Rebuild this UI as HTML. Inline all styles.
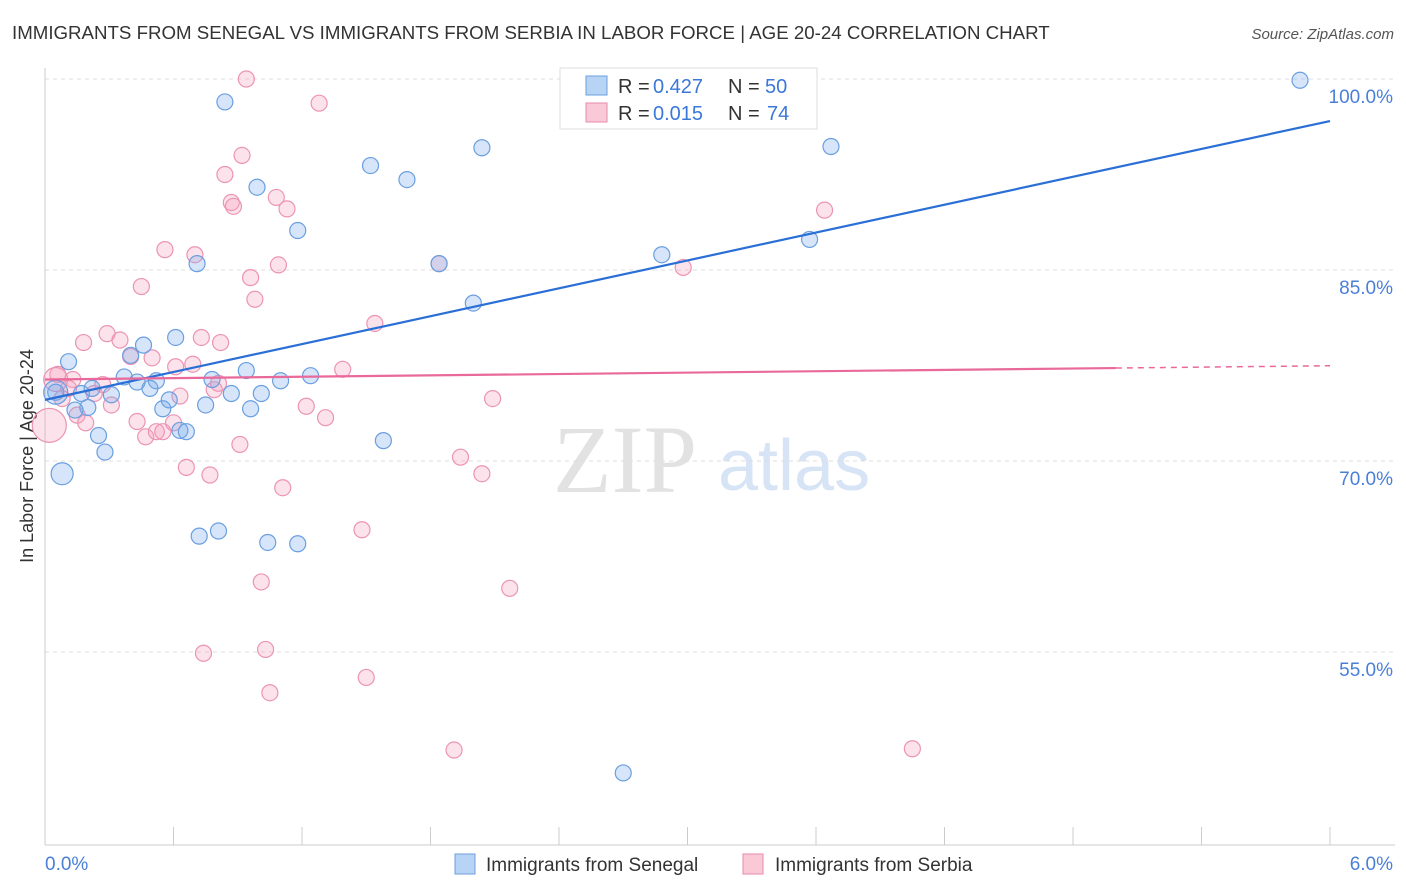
<!DOCTYPE html>
<html><head><meta charset="utf-8"><style>
body{margin:0;background:#fff;font-family:"Liberation Sans",sans-serif;}
#wrap{position:relative;width:1406px;height:892px;overflow:hidden}
</style></head><body>
<div id="wrap">
<svg id="svg" width="1406" height="892" xmlns="http://www.w3.org/2000/svg">
<text x="12" y="39" font-size="18.7" fill="#333">IMMIGRANTS FROM SENEGAL VS IMMIGRANTS FROM SERBIA IN LABOR FORCE | AGE 20-24 CORRELATION CHART</text>
<text x="1394" y="39" font-size="15" fill="#555" font-style="italic" text-anchor="end">Source: ZipAtlas.com</text>
<text x="33" y="456" font-size="18" fill="#333" text-anchor="middle" transform="rotate(-90 33 456)">In Labor Force | Age 20-24</text>
<g>
<text x="553" y="492" font-size="96" fill="#e2e2e2" font-family="Liberation Serif,serif">ZIP</text>
<text x="718" y="490" font-size="72" fill="#d6e4f5">atlas</text>
</g>
<g id="grid"></g><g id="axes"></g><g id="pts"></g><g id="lines"></g>
<g>
<rect x="560" y="68" width="257" height="61" fill="#fff" stroke="#ddd"/>
<rect x="586" y="76" width="21" height="19" fill="#b8d4f5" stroke="#6a9fe0"/>
<rect x="586" y="103" width="21" height="19" fill="#f9c9d8" stroke="#e88aaa"/>
<text x="618" y="93" font-size="20" fill="#333">R =</text>
<text x="653" y="93" font-size="20" fill="#3a78d8">0.427</text>
<text x="728" y="93" font-size="20" fill="#333">N =</text>
<text x="765" y="93" font-size="20" fill="#3a78d8">50</text>
<text x="618" y="120" font-size="20" fill="#333">R =</text>
<text x="653" y="120" font-size="20" fill="#3a78d8">0.015</text>
<text x="728" y="120" font-size="20" fill="#333">N =</text>
<text x="767" y="120" font-size="20" fill="#3a78d8">74</text>
</g>
<g>
<rect x="455" y="854" width="20" height="20" fill="#b8d4f5" stroke="#6a9fe0"/>
<text x="486" y="871" font-size="19" fill="#333">Immigrants from Senegal</text>
<rect x="743" y="854" width="20" height="20" fill="#f9c9d8" stroke="#e88aaa"/>
<text x="775" y="871" font-size="19" fill="#333">Immigrants from Serbia</text>
</g>
</svg></div>
<script>
const yTicks=[100,85,70,55];
const yTickLabels=["100.0%","85.0%","70.0%","55.0%"];
const xTickLabels=["0.0%","6.0%"];
const senegalX=[0.84,5.86,2.04,3.67,1.52,1.69,0.99,1.18,3.57,2.88,0.71,1.84,2.00,0.11,0.46,0.61,0.40,0.37,0.43,0.52,0.49,0.31,0.17,0.22,0.05,0.20,0.55,0.58,0.75,0.78,0.87,0.94,0.96,1.01,1.10,1.24,0.14,0.25,0.28,0.63,0.66,1.58,0.08,0.72,0.81,1.04,1.18,2.70,0.05];
const senegalY=[98.2,99.9,94.6,94.7,93.2,92.1,91.5,88.1,87.4,86.2,85.5,85.5,82.4,77.8,79.1,79.7,78.3,76.6,76.2,76.3,75.7,75.2,75.3,75.7,75.4,74.2,74.1,74.8,74.4,76.4,75.3,77.1,74.1,75.3,76.3,76.7,74.0,72.0,70.7,72.4,72.3,71.6,69.0,64.1,64.5,63.6,63.5,45.5,75.4];
const senegalSize=[8,8,8,8,8,8,8,8,8,8,8,8,8,8,8,8,8,8,8,8,8,8,8,8,8,8,8,8,8,8,8,8,8,8,8,8,8,8,8,8,8,8,11,8,8,8,8,8,12];
const serbiaX=[0.94,3.56,1.28,0.92,0.84,0.87,0.88,1.08,1.13,3.64,0.56,0.70,0.96,1.09,1.84,2.98,0.45,0.98,1.54,0.29,0.18,0.35,0.50,0.40,0.61,0.69,0.82,0.73,1.39,0.06,0.05,0.13,0.27,0.23,0.11,0.08,0.31,0.15,0.19,0.43,0.47,0.52,0.55,0.60,0.63,0.79,0.81,1.22,1.31,2.09,0.91,0.66,0.77,1.94,2.04,1.11,1.48,1.01,2.17,0.74,1.03,1.05,1.50,1.91,4.05,0.02];
const serbiaY=[100.0,99.9,98.1,94.0,92.5,90.3,90.0,90.7,89.8,89.7,86.6,86.2,84.4,85.4,85.5,85.2,83.7,82.7,80.8,80.0,79.3,79.5,78.1,78.2,77.4,77.6,79.3,79.7,77.2,76.8,76.4,76.4,76.0,75.3,75.7,74.9,74.4,73.6,73.0,73.1,71.9,72.3,72.3,73.0,75.1,75.6,76.1,74.3,73.4,74.9,71.3,69.5,68.9,70.3,69.0,67.9,64.6,60.5,60.0,54.9,55.2,51.8,53.0,47.3,47.4,72.8];
const serbiaSize=[8,8,8,8,8,8,8,8,8,8,8,8,8,8,8,8,8,8,8,8,8,8,8,8,8,8,8,8,8,8,12,8,8,8,8,8,8,8,8,8,8,8,8,8,8,8,8,8,8,8,8,8,8,8,8,8,8,8,8,8,8,8,8,8,8,17];
const senegalTrend=[74.8,3.65];
const serbiaTrend=[76.4,0.18];
const NS="http://www.w3.org/2000/svg";
function X(v){return 45+v/6*1285;}
function Y(v){return 79+(100-v)*12.733;}
function mk(t,a,p){const e=document.createElementNS(NS,t);for(const k in a)e.setAttribute(k,a[k]);p.appendChild(e);return e;}
const grid=document.getElementById('grid'),axes=document.getElementById('axes'),pts=document.getElementById('pts'),lines=document.getElementById('lines');
yTicks.forEach((v,i)=>{
 const g=mk('line',{x1:45,x2:1395,y1:Y(v),y2:Y(v),stroke:'#ddd','stroke-dasharray':'4,4'},grid);
 
 
 const t=mk('text',{x:1393,y:Y(v)+24,'font-size':19,fill:'#4a7fd8','text-anchor':'end'},axes);
 t.textContent=yTickLabels[i];
 
 
});
mk('line',{x1:45,x2:45,y1:68,y2:845,stroke:'#ccc'},axes);
mk('line',{x1:45,x2:1395,y1:845,y2:845,stroke:'#ccc'},axes);
for(let i=0;i<=10;i++){mk('line',{x1:X(i*0.6),x2:X(i*0.6),y1:827,y2:845,stroke:'#ccc'},axes);}
const xl0=mk('text',{x:45,y:870,'font-size':19,fill:'#4a7fd8'},axes);xl0.textContent=xTickLabels[0];


const xl1=mk('text',{x:1393,y:870,'font-size':19,fill:'#4a7fd8','text-anchor':'end'},axes);xl1.textContent=xTickLabels[1];


serbiaX.forEach((x,i)=>{
 const c=mk('circle',{cx:X(x),cy:Y(serbiaY[i]),r:serbiaSize[i],fill:'rgba(244,160,190,0.3)',stroke:'#ec94b4','stroke-width':1.2},pts);
 
 
});
senegalX.forEach((x,i)=>{
 const c=mk('circle',{cx:X(x),cy:Y(senegalY[i]),r:senegalSize[i],fill:'rgba(120,170,235,0.3)',stroke:'#6a9fe0','stroke-width':1.2},pts);
 
 
});
const bl=mk('line',{x1:X(0),y1:Y(senegalTrend[0]),x2:X(6),y2:Y(senegalTrend[0]+6*senegalTrend[1]),stroke:'#2a6fd6','stroke-width':2.2},lines);


const pl=mk('line',{x1:X(0),y1:Y(serbiaTrend[0]),x2:X(5),y2:Y(serbiaTrend[0]+5*serbiaTrend[1]),stroke:'#e8699a','stroke-width':2.2},lines);


const pd=mk('line',{x1:X(5),y1:Y(serbiaTrend[0]+5*serbiaTrend[1]),x2:X(6),y2:Y(serbiaTrend[0]+6*serbiaTrend[1]),stroke:'#e8699a','stroke-width':1.5,'stroke-dasharray':'6,5'},lines);


</script>
</body></html>
